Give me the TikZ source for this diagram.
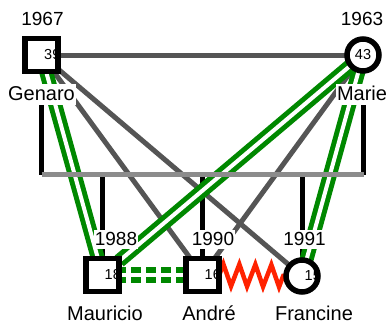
\documentclass[tikz,border=0pt]{standalone}
\usepackage{fontspec}
\setmainfont{Liberation Sans}
\usetikzlibrary{decorations.pathmorphing,backgrounds}
\definecolor{gline}{RGB}{85,85,85}
\definecolor{barc}{RGB}{140,140,140}
\definecolor{grn}{RGB}{0,136,0}
\definecolor{zigc}{RGB}{255,34,0}
\begin{document}
\begin{tikzpicture}[x=1pt,y=-1pt,
  malefill/.style={rectangle, fill=white, minimum size=33pt, inner sep=0pt},
  maleline/.style={rectangle, draw=black, line width=5.5pt, minimum size=33pt, inner sep=0pt},
  femfill/.style={circle, fill=white, minimum size=32pt, inner sep=0pt},
  femline/.style={circle, draw=black, line width=5.5pt, minimum size=32pt, inner sep=0pt},
  num/.style={font=\fontsize{14.5}{17}\selectfont, inner sep=0pt},
  yearlbl/.style={font=\fontsize{19}{22}\selectfont, fill=white, inner sep=1pt, text height=14pt, text depth=3pt, anchor=base},
  namelbl/.style={font=\fontsize{20}{24}\selectfont, fill=white, inner sep=1pt, text height=15pt, text depth=4pt, anchor=base},
  grayline/.style={draw=gline, line width=5pt},
  barline/.style={draw=barc, line width=5pt},
  blkline/.style={draw=black, line width=5pt},
  twinline/.style={draw=grn, line width=5pt, double=white, double distance=4pt},
  twindash/.style={draw=grn, line width=5.5pt, double=white, double distance=4.5pt, dash pattern=on 10pt off 5pt, dash phase=3pt},
  zigline/.style={draw=zigc, line width=4.5pt, decorate, decoration={zigzag, segment length=16pt, amplitude=11pt}}
]
\useasboundingbox (0,0) rectangle (387,324);

% person shapes (white fill)
\node[malefill] (gen) at (41.5,55) {};
\node[femfill]  (mar) at (363,55) {};
\node[malefill] (mau) at (102.5,275) {};
\node[malefill] (and) at (202.5,275) {};
\node[femfill]  (fra) at (302,276) {};

% age numbers, clipped to the shapes
\begin{scope}\clip (gen.south west) rectangle (gen.north east);
  \node[num, anchor=west] (genage) at ([xshift=2.5pt]gen.center) {39};\end{scope}
\begin{scope}\clip (mau.south west) rectangle (mau.north east);
  \node[num, anchor=west] (mauage) at ([xshift=2pt]mau.center) {18};\end{scope}
\begin{scope}\clip (and.south west) rectangle (and.north east);
  \node[num, anchor=west] (andage) at ([xshift=2pt]and.center) {16};\end{scope}
\begin{scope}\clip (fra) circle (16pt);
  \node[num, anchor=west] (fraage) at ([xshift=2.5pt]fra.center) {15};\end{scope}
\node[num] (marage) at (mar.center) {43};

% outlines
\node[maleline] at (gen) {};
\node[femline]  at (mar) {};
\node[maleline] at (mau) {};
\node[maleline] at (and) {};
\node[femline]  at (fra) {};

% labels
\node[yearlbl] (genY) at (42.5,25) {1967};
\node[yearlbl] (marY) at (362,25) {1963};
\node[namelbl] (genN) at (41.5,100) {Genaro};
\node[namelbl] (marN) at (362,100) {Marie};
\node[yearlbl] (mauY) at (116,245) {1988};
\node[yearlbl] (andY) at (213,245) {1990};
\node[yearlbl] (fraY) at (304.5,245) {1991};
\node[namelbl] (mauN) at (105,320) {Mauricio};
\node[namelbl] (andN) at (209,320) {André};
\node[namelbl] (fraN) at (314,320) {Francine};

\coordinate (barL) at (41.5,174.5);
\coordinate (barR) at (363.5,174.5);

\begin{scope}[on background layer]
  \fill[white] (0,0) rectangle (387,324);
  % family drop lines
  \draw[blkline] (genN.south) -- (genN.south |- barL);
  \draw[blkline] (marN.south -| barR) -- (barR);
  \draw[blkline] (barL -| mau) -- (mau);
  \draw[blkline] (barL -| and) -- (and);
  \draw[blkline] (barL -| fra) -- (fra);
  % gray relation lines
  \draw[grayline] (gen) -- (mar);
  \draw[grayline] (gen) -- (and);
  \draw[grayline] (gen) -- (fra);
  \draw[grayline] (mar) -- (and);
  % green double lines
  \draw[twinline] (gen) -- (mau);
  \draw[twinline] (mar) -- (mau);
  \draw[twinline] (mar) -- (fra);
  \draw[twindash] (mau) -- (and);
  % sibling bar
  \draw[barline] (barL) -- (barR);
  % zigzag
  \draw[zigline] (and.east) -- (fra.west);
\end{scope}
\end{tikzpicture}
\end{document}
